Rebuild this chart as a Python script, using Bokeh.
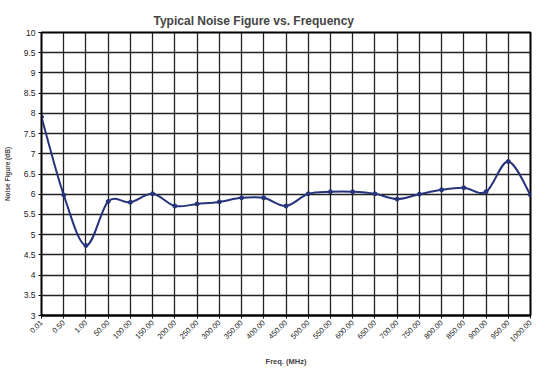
import numpy as np
from bokeh.plotting import figure
from bokeh.models import Range1d, FixedTicker, CustomJSTickFormatter
from bokeh.embed import file_html
from bokeh.resources import INLINE
from math import pi

freq_labels = ["0.01", "0.50", "1.00", "50.00", "100.00", "150.00", "200.00", "250.00",
               "300.00", "350.00", "400.00", "450.00", "500.00", "550.00", "600.00",
               "650.00", "700.00", "750.00", "800.00", "850.00", "900.00", "950.00", "1000.00"]
noise_db = [7.91, 5.98, 4.73, 5.82, 5.80, 6.01, 5.71, 5.76, 5.81, 5.91, 5.91, 5.71,
            6.01, 6.06, 6.06, 6.01, 5.88, 6.00, 6.11, 6.16, 6.06, 6.81, 5.98]
y_ticks = [3, 3.5, 4, 4.5, 5, 5.5, 6, 6.5, 7, 7.5, 8, 8.5, 9, 9.5, 10]

FONT = "Liberation Sans"
NAVY = "#27337A"
GRID = "#222222"

xs = np.arange(len(noise_db), dtype=float)
ys = np.array(noise_db, dtype=float)
n = len(xs)

p = figure(width=535, height=369, output_backend="svg", toolbar_location=None,
           x_range=Range1d(0, n - 1), y_range=Range1d(3, 10),
           min_border_left=41, min_border_right=5, min_border_top=32, min_border_bottom=53)

p.title.text = "Typical Noise Figure vs. Frequency"
p.title.text_font = FONT
p.title.text_font_size = "12px"
p.title.text_font_style = "bold"
p.title.align = "left"
p.title.offset = 112
p.title.standoff = 10

p.background_fill_color = "white"
p.border_fill_color = "white"
p.outline_line_color = "black"
p.outline_line_width = 2

# Smoothed line (Catmull-Rom style bezier through the data points)
xp = np.concatenate([[xs[0]], xs, [xs[-1]]])
yp = np.concatenate([[ys[0]], ys, [ys[-1]]])
i = np.arange(n - 1)
cx0 = xs[:-1] + (xp[i + 2] - xp[i]) / 6.0
cy0 = ys[:-1] + (yp[i + 2] - yp[i]) / 6.0
cx1 = xs[1:] - (xp[i + 3] - xp[i + 1]) / 6.0
cy1 = ys[1:] - (yp[i + 3] - yp[i + 1]) / 6.0
p.bezier(x0=xs[:-1], y0=ys[:-1], x1=xs[1:], y1=ys[1:],
         cx0=cx0, cy0=cy0, cx1=cx1, cy1=cy1, line_color=NAVY, line_width=2)
p.scatter(xs, ys, size=4, color=NAVY)

# X axis
p.xaxis.ticker = FixedTicker(ticks=list(range(n)))
p.xaxis.major_label_overrides = {k: lab for k, lab in enumerate(freq_labels)}
p.xaxis.major_label_orientation = pi / 4
p.xaxis.major_label_text_font = FONT
p.xaxis.major_label_text_font_size = "7.5px"
p.xaxis.major_label_text_color = "#222222"
p.xaxis.major_label_standoff = 3
p.xaxis.axis_line_width = 2
p.xaxis.axis_line_color = "black"
p.xaxis.major_tick_out = 3
p.xaxis.major_tick_in = 0
p.xaxis.minor_tick_line_color = None
p.xaxis.axis_label = "Freq. (MHz)"
p.xaxis.axis_label_text_font = FONT
p.xaxis.axis_label_text_font_size = "7.5px"
p.xaxis.axis_label_text_font_style = "bold"
p.xaxis.axis_label_standoff = 10

# Y axis
p.yaxis.ticker = FixedTicker(ticks=y_ticks)
p.yaxis.formatter = CustomJSTickFormatter(code="return tick.toString();")
p.yaxis.major_label_text_font = FONT
p.yaxis.major_label_text_font_size = "8.5px"
p.yaxis.major_label_text_color = "#222222"
p.yaxis.major_label_standoff = 3
p.yaxis.axis_line_color = "black"
p.yaxis.major_tick_out = 3
p.yaxis.major_tick_in = 0
p.yaxis.minor_tick_line_color = None
p.yaxis.axis_label = "Noise Figure (dB)"
p.yaxis.axis_label_text_font = FONT
p.yaxis.axis_label_text_font_size = "6.5px"
p.yaxis.axis_label_text_font_style = "bold"
p.yaxis.axis_label_standoff = 10

# Grid
p.xgrid.ticker = FixedTicker(ticks=list(range(n)))
p.ygrid.ticker = FixedTicker(ticks=y_ticks)
p.xgrid.grid_line_color = GRID
p.ygrid.grid_line_color = GRID
p.xgrid.grid_line_width = 1.3
p.ygrid.grid_line_width = 1.3
p.xgrid.level = "underlay"

open("out.html", "w").write(file_html(p, INLINE))
